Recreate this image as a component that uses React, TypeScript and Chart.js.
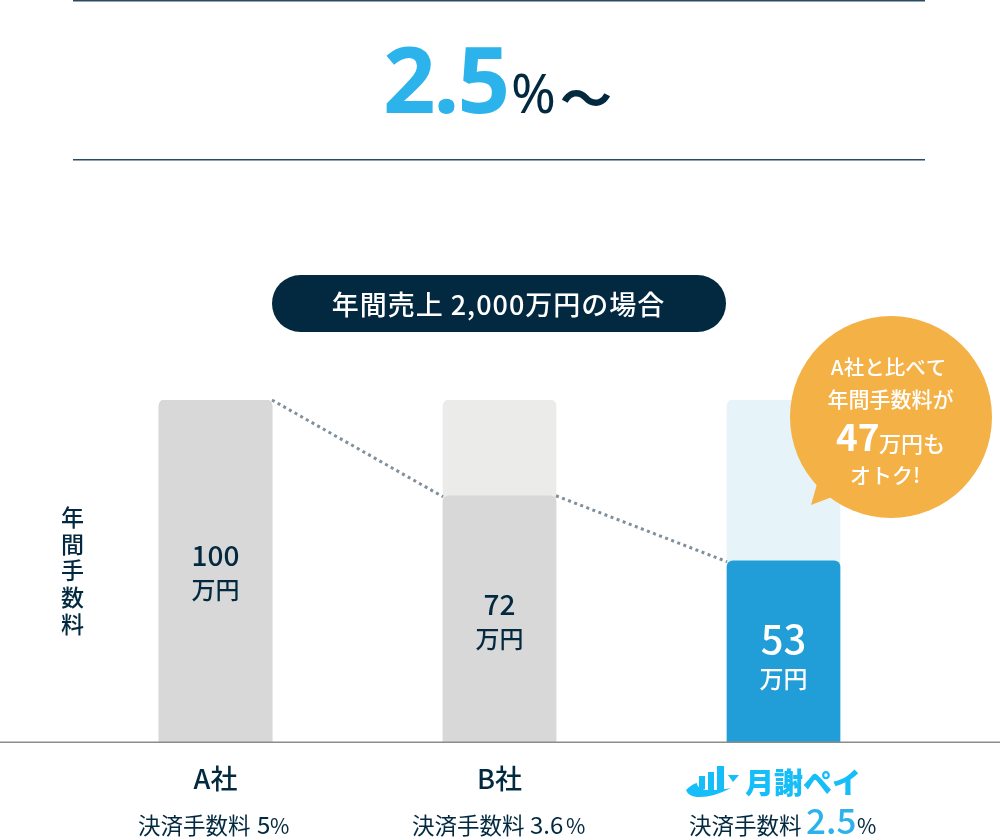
// App.tsx
import React, { useRef, useEffect } from "react";
import { Chart, registerables } from "chart.js";

Chart.register(...registerables);

const categories = ["A社", "B社", "月謝ペイ"];
const annualFees = [100, 72, 53];
const scaleTop = [100, 100, 100];
const feeLabels = ["100", "72", "53"];
const rateLabels = ["5", "3.6", "2.5"];
const rateCaption = "決済手数料";
const unitLabel = "万円";
const yTitle = "年間手数料";
const pillLabel = "年間売上 2,000万円の場合";
const savedAmount = "47";

const navy = "#02293f";
const sky = "#2cb3ec";
const logoBlue = "#15bdf9";
const jp = '"Noto Sans CJK JP"';

const drawText = (
  ctx: CanvasRenderingContext2D,
  text: string,
  x: number,
  y: number,
  font: string,
  color: string,
  align: CanvasTextAlign = "center",
  spacing = 0
) => {
  ctx.font = font;
  ctx.fillStyle = color;
  ctx.textAlign = align;
  ctx.textBaseline = "alphabetic";
  (ctx as any).letterSpacing = `${spacing}px`;
  ctx.fillText(text, x, y);
  (ctx as any).letterSpacing = "0px";
};

const infographic = {
  id: "infographic",
  afterDraw(chart: any) {
    const { ctx } = chart;
    const yScale = chart.scales.y;
    const xScale = chart.scales.x;
    const feeBars = chart.getDatasetMeta(0).data;
    ctx.save();

    // header
    ctx.fillStyle = "#2a4c63";
    ctx.fillRect(73, 0, 852, 1.5);
    ctx.fillRect(73, 159, 852, 1.5);
    drawText(ctx, "2.5", 383, 113, '700 92px "Noto Sans"', sky, "left", -2);
    drawText(ctx, "%", 511, 113, '400 54px "Noto Sans"', navy, "left");
    drawText(ctx, "〜", 560, 118, `700 52px ${jp}`, navy, "left");

    // pill
    ctx.fillStyle = navy;
    ctx.beginPath();
    ctx.roundRect(272, 275, 454, 57, 28.5);
    ctx.fill();
    drawText(ctx, pillLabel, 498.5, 315, `500 27px ${jp}`, "#ffffff", "center", 1);

    // dotted connectors between bars
    ctx.strokeStyle = "#7f8f9b";
    ctx.lineWidth = 3;
    ctx.setLineDash([3, 3.5]);
    for (let i = 0; i < feeBars.length - 1; i++) {
      ctx.beginPath();
      ctx.moveTo(feeBars[i].x + feeBars[i].width / 2, yScale.getPixelForValue(annualFees[i]));
      ctx.lineTo(feeBars[i + 1].x - feeBars[i + 1].width / 2, yScale.getPixelForValue(annualFees[i + 1]) + 1);
      ctx.stroke();
    }
    ctx.setLineDash([]);

    // baseline
    const base = yScale.getPixelForValue(0);
    ctx.fillStyle = "#8c8c8c";
    ctx.fillRect(0, base - 0.5, 1000, 1.5);

    // y title
    Array.from(yTitle).forEach((ch, i) => {
      drawText(ctx, ch, 72.5, 526 + i * 26.7, `500 23px ${jp}`, navy);
    });

    // value labels
    feeLabels.forEach((label, i) => {
      const x = xScale.getPixelForValue(i);
      const isOurs = i === 2;
      const color = isOurs ? "#ffffff" : navy;
      const y = [566, 615, 654][i];
      drawText(ctx, label, x, y, `500 ${isOurs ? 40 : 28}px ${jp}`, color);
      drawText(ctx, unitLabel, x, y + (isOurs ? 34 : 33), `500 24px ${jp}`, color);
    });

    // category labels
    drawText(ctx, categories[0], xScale.getPixelForValue(0), 789, `500 27px ${jp}`, navy);
    drawText(ctx, categories[1], xScale.getPixelForValue(1), 789, `500 27px ${jp}`, navy);
    drawText(ctx, categories[2], 803, 794, `900 29px ${jp}`, logoBlue);

    // logo mark
    ctx.fillStyle = logoBlue;
    ctx.fillRect(699, 776, 6, 13);
    ctx.fillRect(708, 772, 6, 18);
    ctx.fillRect(717, 766, 7, 24);
    ctx.beginPath();
    ctx.moveTo(728, 775);
    ctx.lineTo(739, 775);
    ctx.lineTo(733, 782);
    ctx.closePath();
    ctx.fill();
    ctx.beginPath();
    ctx.moveTo(686, 790);
    ctx.quadraticCurveTo(692, 784, 697, 783);
    ctx.quadraticCurveTo(697, 794, 731, 788);
    ctx.quadraticCurveTo(712, 798, 697, 797);
    ctx.quadraticCurveTo(688, 796, 686, 790);
    ctx.fill();

    // rate captions
    drawText(ctx, rateCaption, 138, 834, `400 22.5px ${jp}`, navy, "left");
    drawText(ctx, rateLabels[0], 257, 834, `400 24px ${jp}`, navy, "left");
    drawText(ctx, "%", 270, 834, `400 21px ${jp}`, navy, "left");
    drawText(ctx, rateCaption, 412, 834, `400 22.5px ${jp}`, navy, "left");
    drawText(ctx, rateLabels[1], 530, 834, `400 24px ${jp}`, navy, "left");
    drawText(ctx, "%", 566, 834, `400 21px ${jp}`, navy, "left");
    drawText(ctx, rateCaption, 689, 834, `400 22.5px ${jp}`, navy, "left");
    drawText(ctx, rateLabels[2], 806, 834, `500 35px ${jp}`, sky, "left");
    drawText(ctx, "%", 857, 834, `400 21px ${jp}`, navy, "left");

    // bubble
    ctx.fillStyle = "#f4b146";
    ctx.beginPath();
    ctx.arc(891, 417, 101, 0, Math.PI * 2);
    ctx.fill();
    ctx.beginPath();
    ctx.moveTo(817, 484);
    ctx.lineTo(811, 505);
    ctx.lineTo(832, 497);
    ctx.closePath();
    ctx.fill();
    drawText(ctx, "A社と比べて", 888.5, 375, `500 20.5px ${jp}`, "#ffffff");
    drawText(ctx, "年間手数料が", 890.5, 407, `500 21px ${jp}`, "#ffffff");
    drawText(ctx, savedAmount, 836, 451, `700 37px ${jp}`, "#ffffff", "left");
    drawText(ctx, "万円も", 879, 452, `500 22px ${jp}`, "#ffffff", "left");
    drawText(ctx, "オトク!", 885, 483, `500 21px ${jp}`, "#ffffff");

    ctx.restore();
  },
};

const App: React.FC = () => {
  const canvasRef = useRef<HTMLCanvasElement | null>(null);

  useEffect(() => {
    if (!canvasRef.current) return;
    const chart = new Chart(canvasRef.current, {
      type: "bar",
      data: {
        labels: categories,
        datasets: [
          {
            label: "年間手数料",
            data: annualFees,
            backgroundColor: ["#d8d8d8", "#d8d8d8", "#219dd8"],
            order: 1,
          },
          {
            label: "A社との差",
            data: scaleTop,
            backgroundColor: ["#d8d8d8", "#ebebe9", "#e6f4fa"],
            order: 2,
          },
        ],
      },
      options: {
        responsive: false,
        animation: false,
        layout: { padding: { left: 73.5, right: 74.5, top: 400, bottom: 96 } },
        datasets: {
          bar: {
            grouped: false,
            barThickness: 113,
            borderRadius: { topLeft: 6, topRight: 6, bottomLeft: 0, bottomRight: 0 },
            borderSkipped: false,
          },
        },
        plugins: { legend: { display: false }, tooltip: { enabled: false } },
        scales: {
          x: { display: false },
          y: { display: false, min: 0, max: 100 },
        },
      } as any,
      plugins: [infographic],
    });

    return () => chart.destroy();
  }, []);

  return (
    <div style={{ position: "absolute", left: 0, top: 0, width: 1000, height: 838, background: "#fff" }}>
      <canvas ref={canvasRef} width={1000} height={838} style={{ display: "block" }} />
    </div>
  );
};

export default App;
